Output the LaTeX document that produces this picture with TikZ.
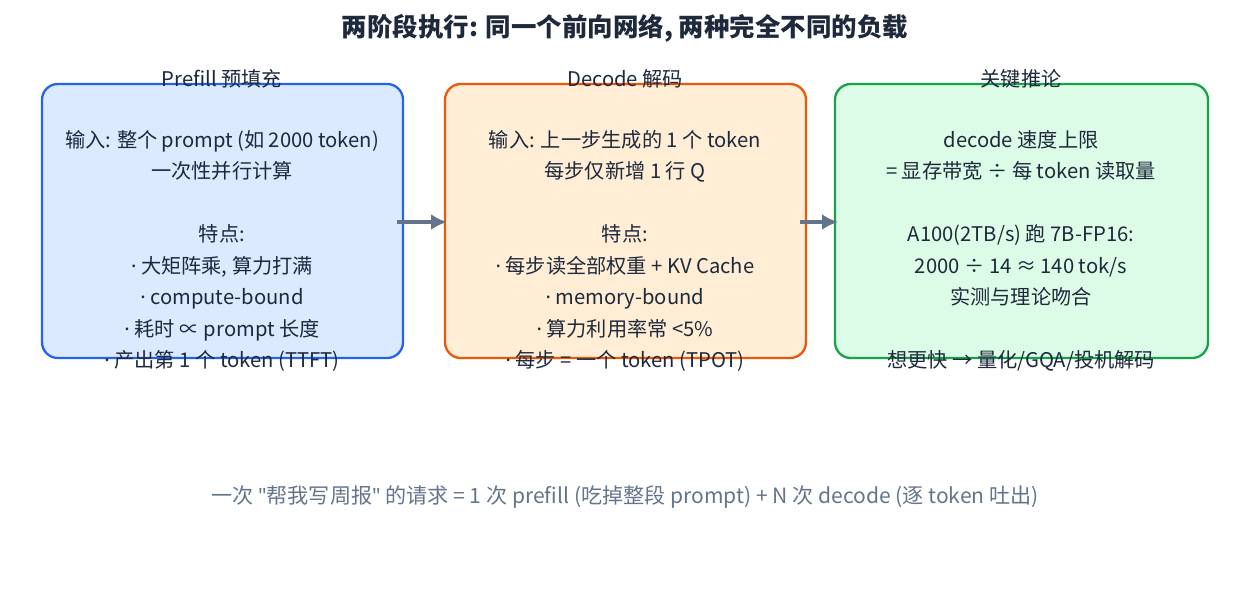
\documentclass[tikz,border=0pt]{standalone}
\usepackage{fontspec}
\setmainfont{Noto Sans CJK SC}[Ligatures=ResetAll]
\newfontfamily\lat{Noto Sans}
\usetikzlibrary{positioning}
\definecolor{ink}{HTML}{1E293B}
\definecolor{gry}{HTML}{64748B}
\definecolor{bdraw}{HTML}{2563EB}\definecolor{bfill}{HTML}{DBEAFE}
\definecolor{odraw}{HTML}{EA580C}\definecolor{ofill}{HTML}{FFEDD5}
\definecolor{gdraw}{HTML}{16A34A}\definecolor{gfill}{HTML}{DCFCE7}
\newcommand{\pt}{{\lat ·}}
\tikzset{>=latex}
\tikzset{stage/.style={draw,rounded corners=9pt,line width=1.3pt},
  body/.style={align=center,text=ink,font=\fontsize{11.5}{17.9}\selectfont,anchor=north,inner sep=0pt},
  head/.style={text=ink,font=\fontsize{11.5}{14}\selectfont},
  flow/.style={-{Latex[length=9pt,width=9pt]},draw=gry,line width=2.2pt}}
\usetikzlibrary{arrows.meta}
\begin{document}
\begin{tikzpicture}[x=0.02cm,y=-0.02cm]
\useasboundingbox (0,0) rectangle (1250,612);
\node[text=ink,font=\bfseries\fontsize{14.5}{16}\selectfont] (title) at (625,28) {两阶段执行: 同一个前向网络, 两种完全不同的负载};

\draw[stage,draw=bdraw,fill=bfill] (42,84) rectangle (403,358);
\draw[stage,draw=odraw,fill=ofill] (445,84) rectangle (806,358);
\draw[stage,draw=gdraw,fill=gfill] (835,84) rectangle (1208,358);
\coordinate (b1e) at (397,222); \coordinate (b2w) at (447,222);
\coordinate (b2e) at (800,222); \coordinate (b3w) at (838,222);

\node[head] (h1) at (222,79) {Prefill 预填充};
\node[head] (h2) at (625,79) {Decode 解码};
\node[head] (h3) at (1021,79) {关键推论};

\node[body] (t1) at (222,130) {输入: 整个 prompt (如 2000 token)\\一次性并行计算\\[17.9pt]特点:\\\pt\ 大矩阵乘, 算力打满\\\pt\ compute-bound\\\pt\ 耗时 ∝ prompt 长度\\\pt\ 产出第 1 个 token (TTFT)};
\node[body] (t2) at (625,130) {输入: 上一步生成的 1 个 token\\每步仅新增 1 行 Q\\[17.9pt]特点:\\\pt\ 每步读全部权重 + KV Cache\\\pt\ memory-bound\\\pt\ 算力利用率常 <5\%\\\pt\ 每步 = 一个 token (TPOT)};
\node[body] (t3) at (1021,130) {decode 速度上限\\= 显存带宽 ÷ 每 token 读取量\\[17.9pt]A100(2TB/s) 跑 7B-FP16:\\2000 ÷ 14 ≈ 140 tok/s\\实测与理论吻合\\[17.9pt]想更快 → 量化/GQA/投机解码};

\draw[flow] (b1e) -- (b2w);
\draw[flow] (b2e) -- (b3w);

\node[text=gry,font=\fontsize{12}{14}\selectfont] (foot) at (625,497) {一次 {\lat "}帮我写周报{\lat "} 的请求 = 1 次 prefill (吃掉整段 prompt) + N 次 decode (逐 token 吐出)};
\end{tikzpicture}
\end{document}
